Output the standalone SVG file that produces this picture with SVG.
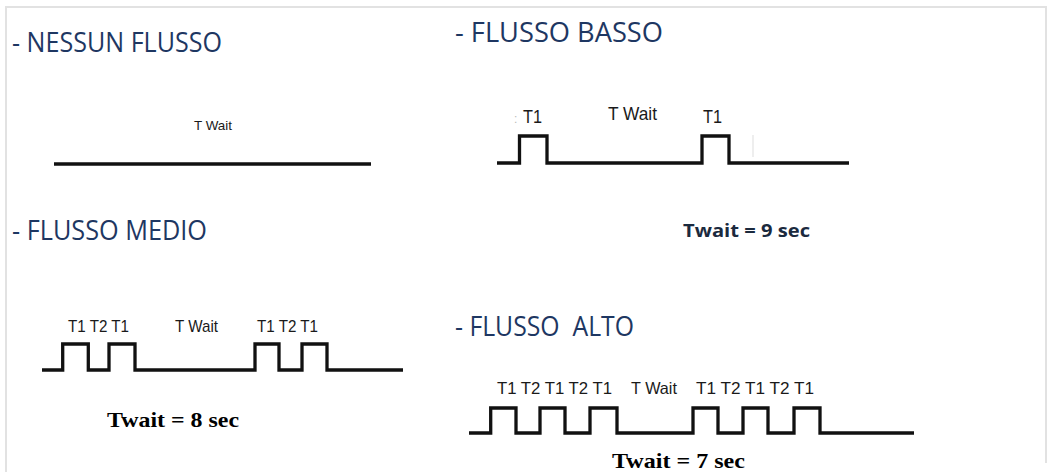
<svg xmlns="http://www.w3.org/2000/svg" width="1048" height="472" viewBox="0 0 1048 472">
<style>
.h{font-family:"Open Sans","Liberation Sans",sans-serif;font-size:26.5px;fill:#1E3762}
.l{font-family:"Liberation Sans","Open Sans",sans-serif;fill:#1a1a1a}
.w{fill:none;stroke:#111;stroke-width:3.3;stroke-linejoin:miter;stroke-linecap:butt}
.tb{font-family:"Liberation Serif",serif;font-weight:bold;font-size:22px;fill:#000}
.ts{font-family:"Open Sans","Liberation Sans",sans-serif;font-weight:bold;font-size:18px;fill:#1b2a3e}
</style>
<rect width="1048" height="472" fill="#fff"/>
<path d="M6,472 V7 H1046 V463" fill="none" stroke="#e2e2e2" stroke-width="2"/>
<g id="nessun">
<text class="h" x="12" y="52" textLength="210" lengthAdjust="spacingAndGlyphs">- NESSUN FLUSSO</text>
<text class="l" x="194" y="130" font-size="13.5" textLength="38" lengthAdjust="spacingAndGlyphs">T Wait</text>
<path class="w" d="M54,164 H371"/>
</g>
<g id="basso">
<text class="h" x="455" y="42" textLength="208" lengthAdjust="spacingAndGlyphs">- FLUSSO BASSO</text>
<text class="l" x="514" y="123" font-size="12" style="fill:#bbb">:</text>
<text class="l" x="523" y="123" font-size="18.5" textLength="19" lengthAdjust="spacingAndGlyphs">T1</text>
<text class="l" x="608" y="120" font-size="18.5" textLength="49" lengthAdjust="spacingAndGlyphs">T Wait</text>
<text class="l" x="703" y="123" font-size="18.5" textLength="19" lengthAdjust="spacingAndGlyphs">T1</text>
<path class="w" d="M497,163 H519.5 V136 H547 V163 H702 V136 H729 V163 H849"/>
<path d="M753,135 V157" stroke="#ddd" stroke-width="1"/>
<text class="ts" x="683" y="237" textLength="127" lengthAdjust="spacingAndGlyphs">Twait = 9 sec</text>
</g>
<g id="medio">
<text class="h" x="12" y="240" textLength="195" lengthAdjust="spacingAndGlyphs">- FLUSSO MEDIO</text>
<text class="l" x="68" y="332" font-size="17" textLength="61" lengthAdjust="spacingAndGlyphs">T1 T2 T1</text>
<text class="l" x="175" y="332" font-size="17" textLength="43" lengthAdjust="spacingAndGlyphs">T Wait</text>
<text class="l" x="257" y="332" font-size="17" textLength="61" lengthAdjust="spacingAndGlyphs">T1 T2 T1</text>
<path class="w" d="M42,370 H62.7 V344 H88.3 V370 H109 V344 H135 V370 H255 V344 H279 V370 H302 V344 H327 V370 H403"/>
<text class="tb" x="107" y="427" textLength="132" lengthAdjust="spacingAndGlyphs">Twait = 8 sec</text>
</g>
<g id="alto">
<text class="h" x="455" y="336" textLength="179" lengthAdjust="spacingAndGlyphs" xml:space="preserve">- FLUSSO  ALTO</text>
<text class="l" x="497" y="394" font-size="16.5" textLength="115" lengthAdjust="spacingAndGlyphs">T1 T2 T1 T2 T1</text>
<text class="l" x="631" y="394" font-size="16.5" textLength="46" lengthAdjust="spacingAndGlyphs">T Wait</text>
<text class="l" x="696" y="394" font-size="16.5" textLength="118" lengthAdjust="spacingAndGlyphs">T1 T2 T1 T2 T1</text>
<path class="w" d="M469,433 H490.7 V408 H516 V433 H540 V408 H565 V433 H590 V408 H617 V433 H693 V408 H718 V433 H743 V408 H768 V433 H794 V408 H820 V433 H914"/>
<text class="tb" x="612" y="468" textLength="133" lengthAdjust="spacingAndGlyphs">Twait = 7 sec</text>
</g>
<g id="connectors"></g>
</svg>
